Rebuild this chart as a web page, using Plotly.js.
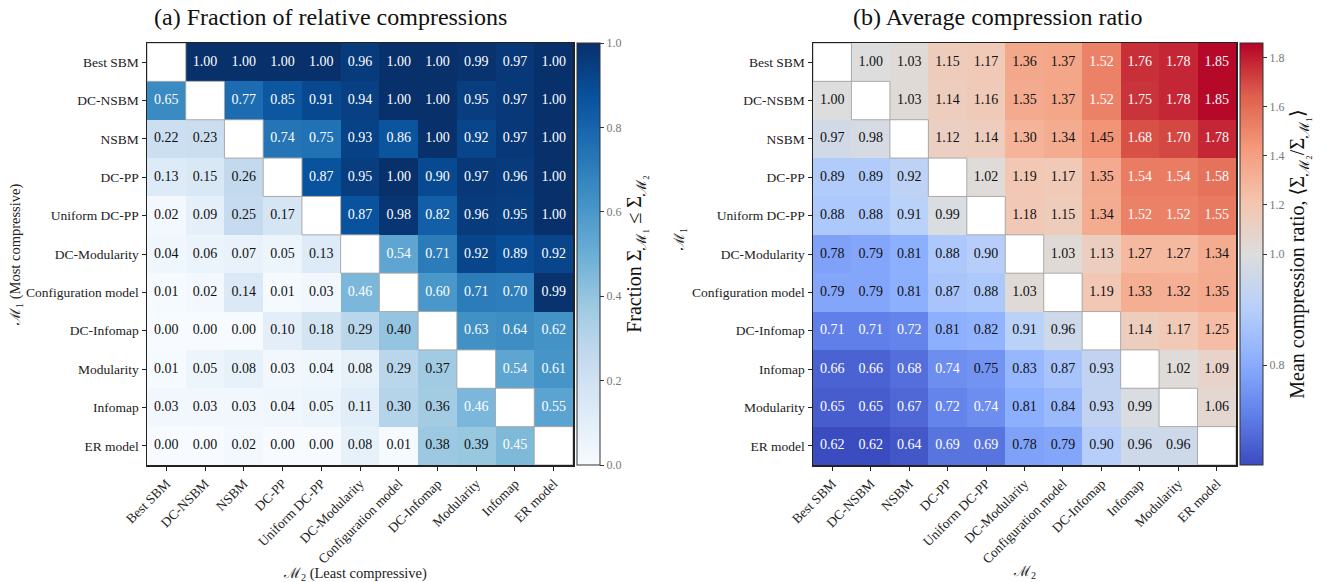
<!DOCTYPE html>
<html>
<head>
<meta charset="utf-8">
<script src="https://cdn.plot.ly/plotly-3.0.1.min.js"></script>
<style>html,body{margin:0;padding:0;background:#fff;}#chart{width:1333px;height:582px;}</style>
</head>
<body>
<div id="chart"></div>
<script>
// ---------- DATA ----------
const modelsA = ["Best SBM","DC-NSBM","NSBM","DC-PP","Uniform DC-PP","DC-Modularity","Configuration model","DC-Infomap","Modularity","Infomap","ER model"];
const modelsB = ["Best SBM","DC-NSBM","NSBM","DC-PP","Uniform DC-PP","DC-Modularity","Configuration model","DC-Infomap","Infomap","Modularity","ER model"];

const fractionValues = [
  [null,1.00,1.00,1.00,1.00,0.96,1.00,1.00,0.99,0.97,1.00],
  [0.65,null,0.77,0.85,0.91,0.94,1.00,1.00,0.95,0.97,1.00],
  [0.22,0.23,null,0.74,0.75,0.93,0.86,1.00,0.92,0.97,1.00],
  [0.13,0.15,0.26,null,0.87,0.95,1.00,0.90,0.97,0.96,1.00],
  [0.02,0.09,0.25,0.17,null,0.87,0.98,0.82,0.96,0.95,1.00],
  [0.04,0.06,0.07,0.05,0.13,null,0.54,0.71,0.92,0.89,0.92],
  [0.01,0.02,0.14,0.01,0.03,0.46,null,0.60,0.71,0.70,0.99],
  [0.00,0.00,0.00,0.10,0.18,0.29,0.40,null,0.63,0.64,0.62],
  [0.01,0.05,0.08,0.03,0.04,0.08,0.29,0.37,null,0.54,0.61],
  [0.03,0.03,0.03,0.04,0.05,0.11,0.30,0.36,0.46,null,0.55],
  [0.00,0.00,0.02,0.00,0.00,0.08,0.01,0.38,0.39,0.45,null]
];

const ratioValues = [
  [null,1.00,1.03,1.15,1.17,1.36,1.37,1.52,1.76,1.78,1.85],
  [1.00,null,1.03,1.14,1.16,1.35,1.37,1.52,1.75,1.78,1.85],
  [0.97,0.98,null,1.12,1.14,1.30,1.34,1.45,1.68,1.70,1.78],
  [0.89,0.89,0.92,null,1.02,1.19,1.17,1.35,1.54,1.54,1.58],
  [0.88,0.88,0.91,0.99,null,1.18,1.15,1.34,1.52,1.52,1.55],
  [0.78,0.79,0.81,0.88,0.90,null,1.03,1.13,1.27,1.27,1.34],
  [0.79,0.79,0.81,0.87,0.88,1.03,null,1.19,1.33,1.32,1.35],
  [0.71,0.71,0.72,0.81,0.82,0.91,0.96,null,1.14,1.17,1.25],
  [0.66,0.66,0.68,0.74,0.75,0.83,0.87,0.93,null,1.02,1.09],
  [0.65,0.65,0.67,0.72,0.74,0.81,0.84,0.93,0.99,null,1.06],
  [0.62,0.62,0.64,0.69,0.69,0.78,0.79,0.90,0.96,0.96,null]
];

const fractionTicks = [0.0,0.2,0.4,0.6,0.8,1.0];
const ratioTicks = [0.8,1.0,1.2,1.4,1.6,1.8];
const ratioMin = 0.62, ratioCenter = 1.0, ratioMax = 1.86;

// ---------- COLOUR SCALES ----------
const blues = [[0,"#f7fbff"],[0.125,"#deebf7"],[0.25,"#c6dbef"],[0.375,"#9ecae1"],[0.5,"#6baed6"],[0.625,"#4292c6"],[0.75,"#2171b5"],[0.875,"#08519c"],[1,"#08306b"]];
const coolwarm = [[0,"rgb(59,76,192)"],[0.125,"rgb(98,130,234)"],[0.25,"rgb(141,176,254)"],[0.375,"rgb(184,208,249)"],[0.5,"rgb(221,221,221)"],[0.625,"rgb(245,196,173)"],[0.75,"rgb(244,154,123)"],[0.875,"rgb(222,96,77)"],[1,"rgb(180,4,38)"]];

// two-slope normalisation (centre at 1.0)
function twoSlope(v){
  if (v === null) return null;
  if (v < ratioCenter) return 0.5*(v-ratioMin)/(ratioCenter-ratioMin);
  return 0.5 + 0.5*(v-ratioCenter)/(ratioMax-ratioCenter);
}
const ratioNorm = ratioValues.map(r => r.map(twoSlope));

const serif = "Liberation Serif, Times New Roman, DejaVu Serif, serif";

// ---------- TEXT LAYERS ----------
function textLayer(values, cats, colorFn, xa, ya){
  const xs=[], ys=[], ts=[], cs=[];
  values.forEach((row,i)=>row.forEach((v,j)=>{
    if (v===null) return;
    xs.push(cats[j]); ys.push(cats[i]); ts.push(v.toFixed(2)); cs.push(colorFn(v));
  }));
  return {type:"scatter", mode:"text", x:xs, y:ys, text:ts, xaxis:xa, yaxis:ya,
    textfont:{family:serif, size:14, color:cs},
    hoverinfo:"skip", showlegend:false};
}

function colorbarCommon(xLeft){
  return {x:xLeft/1333, xanchor:"left", xpad:0, ypad:0, y:117/582, yanchor:"bottom", len:422/582, lenmode:"fraction",
     thickness:23, outlinewidth:1, outlinecolor:"#333", ticks:"outside", ticklen:4, tickcolor:"#333",
     tickfont:{family:serif,size:12,color:"#777"}};
}

const cb1 = Object.assign(colorbarCommon(577), {
  tickvals:fractionTicks, ticktext:fractionTicks.map(t=>t.toFixed(1)),
  title:{text:"Fraction Σ<sub>ℳ₁</sub> ≤ Σ<sub>ℳ₂</sub>", side:"right", font:{family:serif,size:20,color:"#111"}}});
const cb2 = Object.assign(colorbarCommon(1240), {
  tickvals:ratioTicks.map(twoSlope), ticktext:ratioTicks.map(t=>t.toFixed(1)),
  title:{text:"Mean compression ratio, ⟨Σ<sub>ℳ₂</sub>/Σ<sub>ℳ₁</sub>⟩", side:"right", font:{family:serif,size:20,color:"#111"}}});

const traces = [
  {type:"heatmap", z:fractionValues, x:modelsA, y:modelsA, colorscale:blues, zmin:0, zmax:1,
   xaxis:"x", yaxis:"y", hoverinfo:"skip", colorbar:cb1},
  textLayer(fractionValues, modelsA, v => v>=0.45 ? "#ffffff" : "#111111", "x", "y"),
  {type:"heatmap", z:ratioNorm, x:modelsB, y:modelsB, colorscale:coolwarm, zmin:0, zmax:1,
   xaxis:"x2", yaxis:"y2", hoverinfo:"skip", colorbar:cb2},
  textLayer(ratioValues, modelsB, v => (v>=1.5 || v<=0.745) ? "#ffffff" : "#111111", "x2", "y2")
];

// diagonal outline shapes
const shapes = [];
[["x","y"],["x2","y2"]].forEach(([xa,ya])=>{
  for (let i=0;i<modelsA.length;i++){
    shapes.push({type:"rect", xref:xa, yref:ya, x0:i-0.5, x1:i+0.5, y0:i-0.5, y1:i+0.5,
      line:{color:"#aaaaaa", width:1}, fillcolor:"rgba(255,255,255,0)", layer:"above"});
  }
});

const axisCommon = {showgrid:false, zeroline:false, showline:true, linecolor:"#222", linewidth:1.5, mirror:true,
  ticks:"outside", ticklen:4, tickcolor:"#222", tickfont:{family:serif, size:13.5, color:"#222"}, fixedrange:true};

const yTop = 1-43/582, yBot = 1-465/582;

const layout = {
  width:1333, height:582, margin:{l:0,r:0,t:0,b:0}, paper_bgcolor:"#fff", plot_bgcolor:"#fff",
  showlegend:false, font:{family:serif},
  xaxis:Object.assign({}, axisCommon, {domain:[147/1333,573/1333], tickangle:-45, anchor:"y", range:[-0.5,10.5]}),
  yaxis:Object.assign({}, axisCommon, {domain:[yBot,yTop], anchor:"x", range:[10.5,-0.5]}),
  xaxis2:Object.assign({}, axisCommon, {domain:[813/1333,1236/1333], tickangle:-45, anchor:"y2", range:[-0.5,10.5]}),
  yaxis2:Object.assign({}, axisCommon, {domain:[yBot,yTop], anchor:"x2", range:[10.5,-0.5]}),
  shapes:shapes,
  annotations:[
    {text:"(a) Fraction of relative compressions", xref:"paper", yref:"paper", x:330/1333, y:1-17/582, showarrow:false, xanchor:"center", yanchor:"middle", font:{family:serif,size:24,color:"#111"}},
    {text:"(b) Average compression ratio", xref:"paper", yref:"paper", x:997/1333, y:1-17/582, showarrow:false, xanchor:"center", yanchor:"middle", font:{family:serif,size:24,color:"#111"}},
    {text:"ℳ<sub>2</sub> (Least compressive)", xref:"paper", yref:"paper", x:355/1333, y:1-574/582, showarrow:false, xanchor:"center", yanchor:"middle", font:{family:serif,size:14.5,color:"#222"}},
    {text:"ℳ<sub>2</sub>", xref:"paper", yref:"paper", x:1024/1333, y:1-572/582, showarrow:false, xanchor:"center", yanchor:"middle", font:{family:serif,size:14.5,color:"#222"}},
    {text:"ℳ<sub>1</sub> (Most compressive)", xref:"paper", yref:"paper", x:16/1333, y:1-255/582, showarrow:false, textangle:-90, xanchor:"center", yanchor:"middle", font:{family:serif,size:14.5,color:"#222"}},
    {text:"ℳ<sub>1</sub>", xref:"paper", yref:"paper", x:680/1333, y:1-240/582, showarrow:false, textangle:-90, xanchor:"center", yanchor:"middle", font:{family:serif,size:14.5,color:"#222"}}
  ]
};

Plotly.newPlot("chart", traces, layout, {displayModeBar:false, staticPlot:true});
</script>
</body>
</html>
